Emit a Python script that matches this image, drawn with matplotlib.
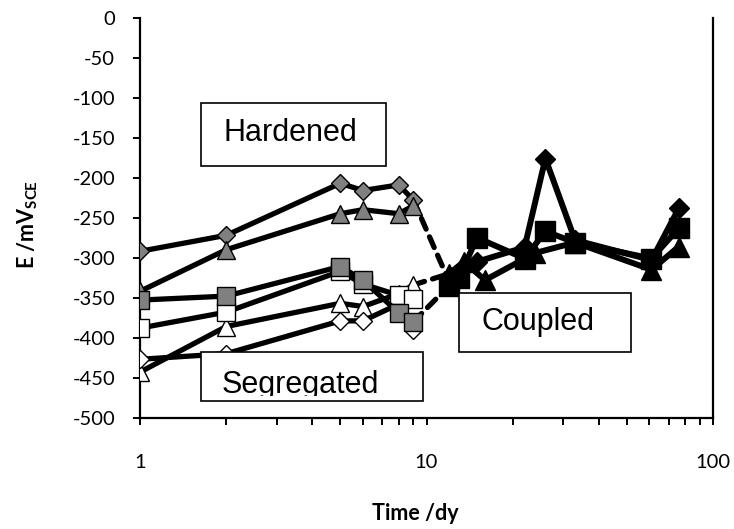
import matplotlib
matplotlib.use("Agg")
import matplotlib.pyplot as plt
from matplotlib.patches import Rectangle
from matplotlib.ticker import FixedLocator, NullFormatter, LogLocator

plt.rcParams["font.family"] = ["Lato", "DejaVu Sans"]
plt.rcParams["mathtext.fontset"] = "custom"
plt.rcParams["mathtext.rm"] = "Lato"
plt.rcParams["mathtext.bf"] = "Lato:bold"
plt.rcParams["axes.unicode_minus"] = False

# separate specimens, days 1-9
days_early = [1, 2, 5, 6, 8, 9]
hard_diamond = [-292, -272, -207, -216, -209, -228]
hard_triangle = [-342, -290, -245, -240, -245, -235]
seg_gray_square = [-353, -348, -311, -328, -369, -380]
seg_white_square = [-388, -368, -317, -333, -347, -351]
seg_white_triangle = [-443, -386, -357, -361, -345, -334]
seg_white_diamond = [-427, -420, -379, -379, -358, -390]

# coupled specimens
days_coupled = [12, 13, 15, 22, 26, 33, 61, 76]
coup_diamond = [-330, -320, -305, -287, -176, -278, -303, -238]
coup_square = [-335, -325, -275, -301, -267, -281, -301, -263]
days_coupled_tri = [12, 13.5, 16, 24, 33, 61, 76]
coup_triangle = [-320, -305, -328, -294, -281, -315, -286]

# links at the moment of coupling
link_days = [9, 12]
link_diamond = [hard_diamond[-1], coup_diamond[0]]
link_triangle = [seg_white_triangle[-1], coup_triangle[0]]
link_square = [seg_gray_square[-1], coup_square[0]]

GRAY = "#808080"
LW = 3.8

fig = plt.figure(figsize=(7.34, 5.29), dpi=100)
ax = fig.add_axes([140 / 734, 1 - 417.7 / 529, 573 / 734, 400 / 529])

early = [
    (hard_diamond, "D", GRAY, 9),
    (hard_triangle, "^", GRAY, 13),
    (seg_white_triangle, "^", "white", 13),
    (seg_white_diamond, "D", "white", 9),
    (seg_white_square, "s", "white", 13),
    (seg_gray_square, "s", GRAY, 13),
]
for vals, mk, fc, ms in early:
    ax.plot(days_early, vals, color="black", lw=LW, marker=mk, ms=ms,
            mfc=fc, mec="black", mew=1.0, zorder=3)

for vals in (link_diamond, link_triangle, link_square):
    ax.plot(link_days, vals, color="black", lw=LW, ls=(0, (2.2, 1.6)),
            dash_capstyle="round", zorder=2)

ax.plot(days_coupled, coup_diamond, color="black", lw=4.3, marker="D", ms=10,
        mfc="black", mec="black", zorder=4)
ax.plot(days_coupled, coup_square, color="black", lw=4.3, marker="s", ms=14,
        mfc="black", mec="black", zorder=4)
ax.plot(days_coupled_tri, coup_triangle, color="black", lw=4.3, marker="^", ms=15,
        mfc="black", mec="black", zorder=4)

ax.set_xscale("log")
ax.set_xlim(1, 100)
ax.set_ylim(-500, 0)
ax.yaxis.set_major_locator(FixedLocator(list(range(-500, 1, 50))))
ax.xaxis.set_major_locator(FixedLocator([1, 10, 100]))
ax.set_xticklabels(["1", "10", "100"])
ax.xaxis.set_minor_locator(LogLocator(base=10, subs=range(2, 10)))
ax.xaxis.set_minor_formatter(NullFormatter())

for sp in ax.spines.values():
    sp.set_linewidth(1.6)
ax.spines["top"].set_visible(False)
ax.tick_params(axis="both", which="major", direction="out", length=5, width=1.4,
               labelsize=14.5)
ax.tick_params(axis="y", which="major", pad=13)
ax.tick_params(axis="x", which="major", pad=21)
ax.tick_params(axis="x", which="minor", direction="out", length=5, width=1.4)

ax.set_xlabel("Time /dy", fontsize=15.5, fontweight="bold")
ax.set_ylabel(r"E /mV$_\mathbf{SCE}$", fontsize=15.5, fontweight="bold")
ax.xaxis.set_label_coords(0.48, -0.212)
ax.yaxis.set_label_coords(-0.175, 0.482)

# labelled boxes for the three conditions
def label_box(x0, y0, x1, y1, text, tx, ty, ha="center", va="center", clip_y=None):
    rect = Rectangle((x0, y0), x1 - x0, y1 - y0, transform=ax.transAxes,
                     facecolor="white", edgecolor="black", lw=1.2, zorder=6,
                     clip_on=False)
    ax.add_patch(rect)
    t = ax.text(tx, ty, text, transform=ax.transAxes, ha=ha, va=va,
                fontsize=22, family="Liberation Sans", zorder=7)
    cy = y0 if clip_y is None else clip_y
    clip = Rectangle((x0, cy), x1 - x0, y1 - cy, transform=ax.transAxes,
                     visible=False)
    ax.add_patch(clip)
    t.set_clip_path(clip)
    t.set_clip_on(True)

label_box(0.106, 0.629, 0.4288, 0.786, "Hardened", 0.2618, 0.711)
label_box(0.557, 0.165, 0.8565, 0.311, "Coupled", 0.695, 0.24)
label_box(0.1065, 0.042, 0.4939, 0.164, "Segregated", 0.1426, 0.061,
          ha="left", va="baseline", clip_y=0.054)

fig.savefig("out.png", dpi=100)
